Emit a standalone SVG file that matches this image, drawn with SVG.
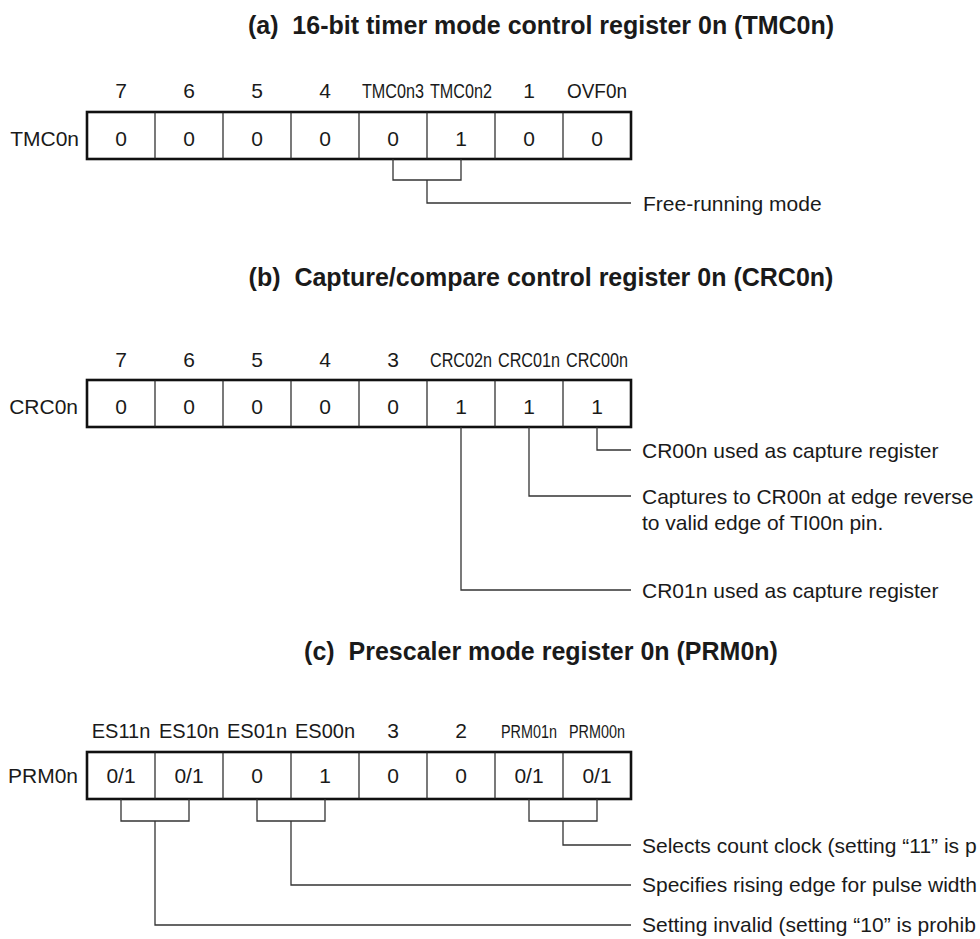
<svg xmlns="http://www.w3.org/2000/svg" width="980" height="939" viewBox="0 0 980 939">
<style>
.title{font-family:"Liberation Sans",Arial,sans-serif;font-weight:bold;font-size:25px;fill:#1a1a1a;text-anchor:middle;white-space:pre}
.t{font-family:"Liberation Sans",Arial,sans-serif;font-size:21px;fill:#1a1a1a}
.s{font-family:"Liberation Sans",Arial,sans-serif;font-size:20px;fill:#1a1a1a;text-anchor:middle}
.c{text-anchor:middle}
.e{text-anchor:end}
.box{fill:#fff;stroke:#111;stroke-width:2.6}
.div{stroke:#222;stroke-width:1.2}
.ln{fill:none;stroke:#333;stroke-width:1.3}
</style>
<rect width="980" height="939" fill="#fff"/>

<!-- (a) -->
<g id="title-a"><text class="title" x="541" y="34" xml:space="preserve">(a)  16-bit timer mode control register 0n (TMC0n)</text></g>
<g id="reg-TMC0n">
<text class="t e" x="79" y="146">TMC0n</text>
<g class="t c">
<text x="121" y="98">7</text><text x="189" y="98">6</text><text x="257" y="98">5</text><text x="325" y="98">4</text>
<text x="529" y="98">1</text>
</g>
<text class="s" transform="translate(393,98) scale(0.81,1)">TMC0n3</text>
<text class="s" transform="translate(461,98) scale(0.81,1)">TMC0n2</text>
<text class="s" transform="translate(597,98) scale(0.95,1)">OVF0n</text>
<rect class="box" x="87" y="112" width="544" height="47"/>
<path class="div" d="M155 112V159M223 112V159M291 112V159M359 112V159M427 112V159M495 112V159M563 112V159"/>
<g class="t c">
<text x="121" y="146">0</text><text x="189" y="146">0</text><text x="257" y="146">0</text><text x="325" y="146">0</text>
<text x="393" y="146">0</text><text x="461" y="146">1</text><text x="529" y="146">0</text><text x="597" y="146">0</text>
</g>
</g>
<g id="label-a"><text class="t" x="643" y="211">Free-running mode</text></g>

<!-- (b) -->
<g id="title-b"><text class="title" x="541" y="286" xml:space="preserve">(b)  Capture/compare control register 0n (CRC0n)</text></g>
<g id="reg-CRC0n">
<text class="t e" x="78" y="414">CRC0n</text>
<g class="t c">
<text x="121" y="367">7</text><text x="189" y="367">6</text><text x="257" y="367">5</text><text x="325" y="367">4</text><text x="393" y="367">3</text>
</g>
<text class="s" transform="translate(461,367) scale(0.81,1)">CRC02n</text>
<text class="s" transform="translate(529,367) scale(0.81,1)">CRC01n</text>
<text class="s" transform="translate(597,367) scale(0.81,1)">CRC00n</text>
<rect class="box" x="87" y="380" width="544" height="47"/>
<path class="div" d="M155 380V427M223 380V427M291 380V427M359 380V427M427 380V427M495 380V427M563 380V427"/>
<g class="t c">
<text x="121" y="414">0</text><text x="189" y="414">0</text><text x="257" y="414">0</text><text x="325" y="414">0</text>
<text x="393" y="414">0</text><text x="461" y="414">1</text><text x="529" y="414">1</text><text x="597" y="414">1</text>
</g>
</g>
<g id="label-b1"><text class="t" x="642" y="457.5">CR00n used as capture register</text></g>
<g id="label-b2"><text class="t" x="642" y="503.5">Captures to CR00n at edge reverse</text><text class="t" x="642" y="529.5">to valid edge of TI00n pin.</text></g>
<g id="label-b3"><text class="t" x="642" y="597.5">CR01n used as capture register</text></g>

<!-- (c) -->
<g id="title-c"><text class="title" x="541" y="660" xml:space="preserve">(c)  Prescaler mode register 0n (PRM0n)</text></g>
<g id="reg-PRM0n">
<text class="t e" x="78" y="783">PRM0n</text>
<g class="s">
<text x="121" y="738">ES11n</text><text x="189" y="738">ES10n</text><text x="257" y="738">ES01n</text><text x="325" y="738">ES00n</text>
</g>
<g class="t c">
<text x="393" y="738">3</text><text x="461" y="738">2</text>
</g>
<text class="s" style="font-size:18px" transform="translate(529,738) scale(0.8,1)">PRM01n</text>
<text class="s" style="font-size:18px" transform="translate(597,738) scale(0.8,1)">PRM00n</text>
<rect class="box" x="87" y="752" width="544" height="47"/>
<path class="div" d="M155 752V799M223 752V799M291 752V799M359 752V799M427 752V799M495 752V799M563 752V799"/>
<g class="t c">
<text x="121" y="783">0/1</text><text x="189" y="783">0/1</text><text x="257" y="783">0</text><text x="325" y="783">1</text>
<text x="393" y="783">0</text><text x="461" y="783">0</text><text x="529" y="783">0/1</text><text x="597" y="783">0/1</text>
</g>
</g>
<g id="label-c1"><text class="t" x="642" y="852.5">Selects count clock (setting “11” is p</text></g>
<g id="label-c2"><text class="t" x="642" y="892">Specifies rising edge for pulse width</text></g>
<g id="label-c3"><text class="t" x="642" y="932">Setting invalid (setting “10” is prohib</text></g>

<g id="connectors">
<path class="ln" d="M393 159V180H461V159M427 180V203H631"/>
<path class="ln" d="M597 427V450H631"/>
<path class="ln" d="M529 427V496H631"/>
<path class="ln" d="M461 427V590H631"/>
<path class="ln" d="M121 799V821H189V799M155 821V925H631"/>
<path class="ln" d="M257 799V821H325V799M291 821V885H631"/>
<path class="ln" d="M529 799V821H597V799M563 821V845H631"/>
</g>
</svg>
